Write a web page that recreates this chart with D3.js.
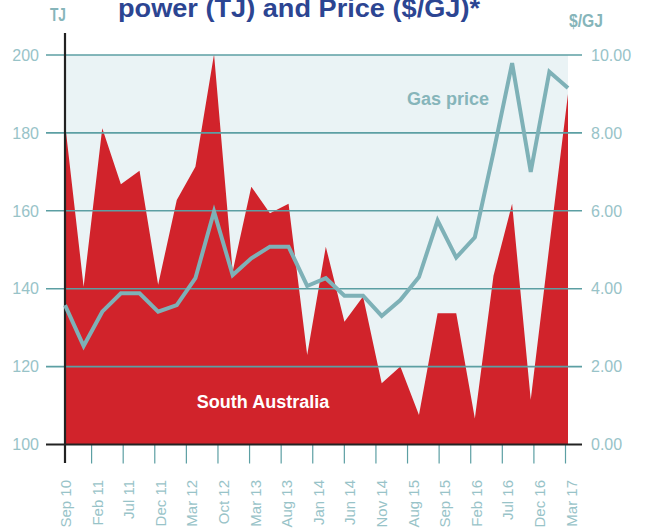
<!DOCTYPE html>
<html>
<head>
<meta charset="utf-8">
<script src="https://cdnjs.cloudflare.com/ajax/libs/d3/7.8.5/d3.min.js"></script>
<style>
  html, body { margin: 0; padding: 0; background: #fff; }
  #chart { width: 649px; height: 530px; }
  text { font-family: "Liberation Sans", Arial, Helvetica, sans-serif; }
</style>
</head>
<body>
<div id="chart"></div>
<script>
// x-axis category labels
const tickLabels = ["Sep 10", "Feb 11", "Jul 11", "Dec 11", "Mar 12", "Oct 12", "Mar 13", "Aug 13",
  "Jan 14", "Jun 14", "Nov 14", "Aug 15", "Sep 15", "Feb 16", "Jul 16", "Dec 16", "Mar 17"];

// gas used for power, South Australia (TJ)
const supplyTJ = [182.5, 140.5, 181.2, 166.8, 170.3, 141.0, 162.8, 171.3, 200.2, 144.4,
  166.2, 159.4, 161.8, 123.0, 150.8, 131.5, 138.0, 115.7, 120.0, 107.6,
  133.7, 133.7, 106.7, 143.3, 161.8, 111.5, 151.0, 190.0];

// gas price ($/GJ)
const gasPrice = [3.58, 2.53, 3.41, 3.88, 3.88, 3.41, 3.58, 4.27, 5.98, 4.35,
  4.78, 5.08, 5.08, 4.07, 4.27, 3.82, 3.82, 3.30, 3.71, 4.30,
  5.75, 4.80, 5.32, 7.50, 9.79, 7.00, 9.57, 9.15];

const leftTicks = [100, 120, 140, 160, 180, 200];
const rightTicks = [0, 2, 4, 6, 8, 10];

(function () {
  const width = 649, height = 530;
  const left = 65, right = 568, top = 55, bottom = 444.5;
  const teal = "#5c9fa3", lightTeal = "#98c3c8", lineTeal = "#7eb1b7";

  const svg = d3.select("#chart").append("svg")
    .attr("width", width)
    .attr("height", height);

  const x = d3.scaleLinear().domain([0, supplyTJ.length - 1]).range([left, right]);
  const xt = d3.scalePoint().domain(tickLabels).range([59.5, 565]);
  const yL = d3.scaleLinear().domain([100, 200]).range([bottom, top]);
  const yR = d3.scaleLinear().domain([0, 10]).range([bottom, top]);

  // plot background
  svg.append("rect")
    .attr("x", left).attr("y", top)
    .attr("width", right - left).attr("height", bottom - top)
    .attr("fill", "#eaf3f5");

  // supply area
  const area = d3.area()
    .x((d, i) => x(i))
    .y0(yL(100))
    .y1(d => yL(d));
  svg.append("path")
    .datum(supplyTJ)
    .attr("d", area)
    .attr("fill", "#d1232b");

  // gridlines
  svg.append("g")
    .selectAll("line")
    .data(leftTicks.filter(d => d > 100))
    .enter()
    .append("line")
    .attr("x1", 46).attr("x2", 582)
    .attr("y1", d => yL(d)).attr("y2", d => yL(d))
    .attr("stroke", teal)
    .attr("stroke-width", 1.6);

  // x ticks
  const xAxis = svg.append("g")
    .attr("transform", `translate(0,${bottom})`)
    .call(d3.axisBottom(xt).tickSize(19).tickPadding(0));
  xAxis.select(".domain").remove();
  xAxis.selectAll(".tick line")
    .attr("stroke", teal)
    .attr("stroke-width", 1.2)
    .filter((d, i) => i === 0).remove();
  xAxis.selectAll(".tick text")
    .attr("transform", "rotate(-90)")
    .attr("text-anchor", "end")
    .attr("x", -35.5)
    .attr("y", 0)
    .attr("dy", "0.74em")
    .style("font-size", "15px")
    .style("font-family", "'Liberation Sans', Arial, sans-serif")
    .attr("fill", lightTeal);

  // axes lines
  svg.append("line")
    .attr("x1", 46).attr("x2", 582)
    .attr("y1", bottom).attr("y2", bottom)
    .attr("stroke", "#222").attr("stroke-width", 2.2);
  svg.append("line")
    .attr("x1", left).attr("x2", left)
    .attr("y1", 33).attr("y2", 463)
    .attr("stroke", "#222").attr("stroke-width", 2.2);

  // gas price line
  const line = d3.line()
    .x((d, i) => x(i))
    .y(d => yR(d));
  svg.append("path")
    .datum(gasPrice)
    .attr("d", line)
    .attr("fill", "none")
    .attr("stroke", lineTeal)
    .attr("stroke-width", 4)
    .attr("stroke-linejoin", "miter");

  // left axis labels
  svg.append("g")
    .selectAll("text")
    .data(leftTicks)
    .enter()
    .append("text")
    .attr("x", 39)
    .attr("y", d => yL(d))
    .attr("dy", "0.36em")
    .attr("text-anchor", "end")
    .style("font-size", "16px")
    .attr("fill", lightTeal)
    .text(d => d);

  // right axis labels
  svg.append("g")
    .selectAll("text")
    .data(rightTicks)
    .enter()
    .append("text")
    .attr("x", 591)
    .attr("y", d => yR(d))
    .attr("dy", "0.36em")
    .style("font-size", "16px")
    .attr("fill", lightTeal)
    .text(d => d3.format(".2f")(d));

  // unit labels
  svg.append("text")
    .attr("x", 50).attr("y", 21)
    .attr("textLength", 16).attr("lengthAdjust", "spacingAndGlyphs")
    .style("font-size", "18px").style("font-weight", "bold")
    .attr("fill", "#86b5ba")
    .text("TJ");
  svg.append("text")
    .attr("x", 569).attr("y", 27)
    .attr("textLength", 34).attr("lengthAdjust", "spacingAndGlyphs")
    .style("font-size", "18px").style("font-weight", "bold")
    .attr("fill", "#86b5ba")
    .text("$/GJ");

  // title (cut off at top, as in the source)
  svg.append("text")
    .attr("x", 118).attr("y", 17)
    .attr("textLength", 362).attr("lengthAdjust", "spacingAndGlyphs")
    .style("font-size", "26px").style("font-weight", "bold")
    .attr("fill", "#2c4592")
    .text("power (TJ) and Price ($/GJ)*");

  // series labels
  svg.append("text")
    .attr("x", 407).attr("y", 105)
    .style("font-size", "18px").style("font-weight", "bold")
    .attr("fill", "#86b5ba")
    .text("Gas price");
  svg.append("text")
    .attr("x", 263).attr("y", 408)
    .attr("text-anchor", "middle")
    .style("font-size", "18px").style("font-weight", "bold")
    .attr("fill", "#fff")
    .text("South Australia");
})();
</script>
</body>
</html>
